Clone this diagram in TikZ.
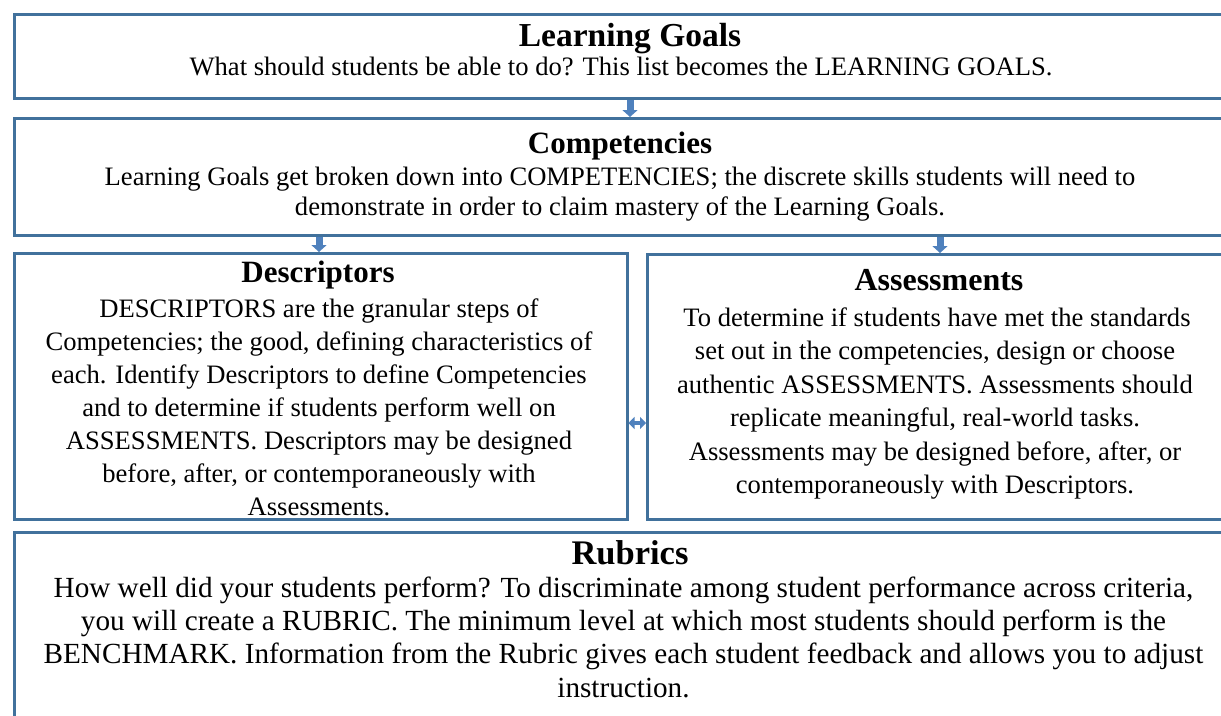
\documentclass[tikz,border=0pt]{standalone}
\usepackage{fontspec}
\setmainfont{Liberation Serif}
\usetikzlibrary{arrows.meta}
\definecolor{boxblue}{RGB}{65,113,156}
\definecolor{arrowblue}{RGB}{79,129,189}
\begin{document}
\begin{tikzpicture}[x=1pt,y=-1pt,
  box/.style={draw=boxblue,line width=3pt,rectangle,anchor=north west,inner sep=0pt},
  ttl/.style={font=\fontsize{31}{34}\selectfont\bfseries,inner sep=0pt,anchor=base},
  ln/.style={font=\fontsize{26.6}{30}\selectfont,inner sep=0pt,anchor=base},
  lnbig/.style={font=\fontsize{29.2}{33}\selectfont,inner sep=0pt,anchor=base},
  blockarrow/.style={arrowblue,line width=7pt,-{Triangle[width=15pt,length=7pt]}},
  dblarrow/.style={arrowblue,line width=3.5pt,{Triangle[width=12pt,length=6pt]}-{Triangle[width=12pt,length=6pt]}}]
\useasboundingbox (0,0) rectangle (1221,715);
% boxes
\node[box,minimum width=1234pt,minimum height=83.5pt] (lg) at (13,13) {};
\node[box,minimum width=1234pt,minimum height=117pt] (comp) at (13,117) {};
\node[box,minimum width=612.5pt,minimum height=266pt] (desc) at (13,252) {};
\node[box,minimum width=600pt,minimum height=265pt] (assess) at (646,253) {};
\node[box,minimum width=1234pt,minimum height=250pt] (rub) at (13,531) {};
% Learning Goals
\node[ttl,font=\fontsize{33.5}{36}\selectfont\bfseries] (lgt) at (630,46) {Learning Goals};
\node[ln] (lg1) at (621,75) {What should students be able to do? This list becomes the LEARNING GOALS.};
% Competencies
\node[ttl] (compt) at (620,153) {Competencies};
\node[ln] (comp1) at (620,185) {Learning Goals get broken down into COMPETENCIES; the discrete skills students will need to};
\node[ln] (comp2) at (620,215) {demonstrate in order to claim mastery of the Learning Goals.};
% Descriptors
\node[ttl] (desct) at (318,282) {Descriptors};
\node[ln] (d1) at (319,317) {DESCRIPTORS are the granular steps of};
\node[ln] (d2) at (319,350) {Competencies; the good, defining characteristics of};
\node[ln] (d3) at (319,383) {each. Identify Descriptors to define Competencies};
\node[ln] (d4) at (319,416) {and to determine if students perform well on};
\node[ln] (d5) at (319,449) {ASSESSMENTS. Descriptors may be designed};
\node[ln] (d6) at (319,482) {before, after, or contemporaneously with};
\node[ln] (d7) at (319,515) {Assessments.};
% Assessments
\node[ttl,font=\fontsize{32}{35}\selectfont\bfseries] (assesst) at (939,290) {Assessments};
\node[ln] (a1) at (937,326) {To determine if students have met the standards};
\node[ln] (a2) at (935,359.5) {set out in the competencies, design or choose};
\node[ln] (a3) at (935,393) {authentic ASSESSMENTS. Assessments should};
\node[ln] (a4) at (935,426.5) {replicate meaningful, real-world tasks.};
\node[ln] (a5) at (935,460) {Assessments may be designed before, after, or};
\node[ln] (a6) at (935,493.5) {contemporaneously with Descriptors.};
% Rubrics
\node[ttl,font=\fontsize{34.5}{37}\selectfont\bfseries] (rubt) at (630,564) {Rubrics};
\node[lnbig] (r1) at (623.5,597) {How well did your students perform? To discriminate among student performance across criteria,};
\node[lnbig] (r2) at (623.5,630.3) {you will create a RUBRIC. The minimum level at which most students should perform is the};
\node[lnbig] (r3) at (623.5,663.6) {BENCHMARK. Information from the Rubric gives each student feedback and allows you to adjust};
\node[lnbig] (r4) at (623.5,697) {instruction.};
% connectors
\coordinate (x1) at (630,0);
\coordinate (x2) at (319,0);
\coordinate (x3) at (940,0);
\coordinate (hy) at (0,423);
\draw[blockarrow] (lg.south -| x1) -- (comp.north -| x1);
\draw[blockarrow] (comp.south -| x2) -- (desc.north -| x2);
\draw[blockarrow] (comp.south -| x3) -- (assess.north -| x3);
\draw[dblarrow] (desc.east |- hy) -- (assess.west |- hy);
\end{tikzpicture}
\end{document}
